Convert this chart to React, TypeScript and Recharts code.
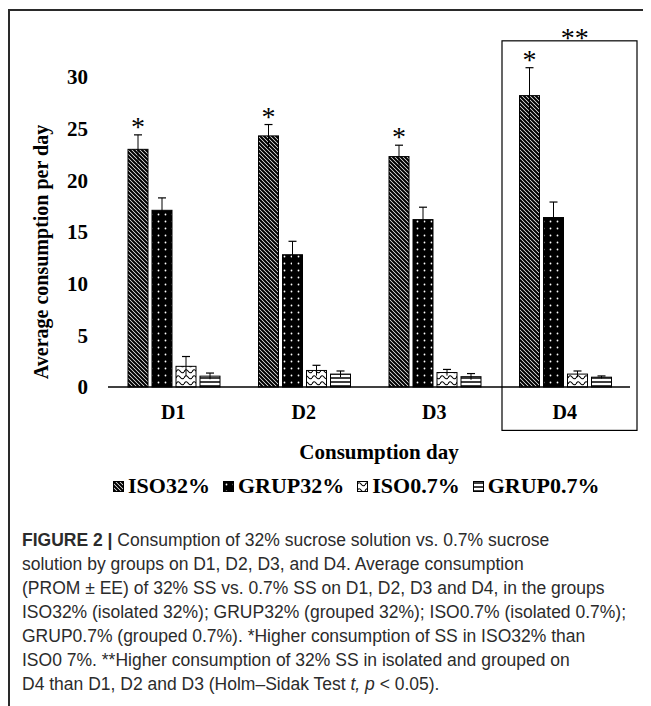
import React from "react";
import { BarChart, Bar, XAxis, YAxis, ReferenceArea } from "recharts";

const days = ["D1", "D2", "D3", "D4"];
const iso32 = [23.0, 24.3, 22.3, 28.2];
const iso32Err = [1.4, 1.1, 1.1, 2.7];
const grup32 = [17.1, 12.8, 16.2, 16.4];
const grup32Err = [1.2, 1.3, 1.2, 1.5];
const iso07 = [2.0, 1.6, 1.4, 1.25];
const iso07Err = [0.95, 0.5, 0.3, 0.3];
const grup07 = [1.05, 1.25, 1.0, 0.95];
const grup07Err = [0.3, 0.3, 0.3, 0.12];
const iso32Sig = ["*", "*", "*", "*"];
const yTicks = [0, 5, 10, 15, 20, 25, 30];
const boxDay = "D4";
const boxMark = "**";
const boxRange = [-4.2, 33.5];

const seriesNames = ["ISO32%", "GRUP32%", "ISO0.7%", "GRUP0.7%"];
const seriesKeys = ["iso32", "grup32", "iso07", "grup07"];
const patternIds = ["pHatch", "pDots", "pWave", "pHoriz"];

const data = days.map((d, i) => ({
  day: d,
  iso32: iso32[i],
  iso32Err: iso32Err[i],
  iso32Sig: iso32Sig[i],
  grup32: grup32[i],
  grup32Err: grup32Err[i],
  iso07: iso07[i],
  iso07Err: iso07Err[i],
  grup07: grup07[i],
  grup07Err: grup07Err[i],
}));

const SERIF = "'Liberation Serif', 'Times New Roman', serif";
const SANS = "'Liberation Sans', Arial, Helvetica, sans-serif";

function makeShape(key: string, pattern: string) {
  return (props: any) => {
    const { x, y, width, height, payload } = props;
    const v = payload[key];
    const err = payload[key + "Err"];
    const sig = payload[key + "Sig"];
    const perUnit = v ? height / v : 0;
    const e = err * perUnit;
    const cx = x + width / 2;
    return (
      <g>
        <rect x={x} y={y} width={width} height={height} fill={`url(#${pattern})`} stroke="#000" strokeWidth={1} />
        <line x1={cx} x2={cx} y1={y - e} y2={y + e} stroke="#000" strokeWidth={1} />
        <line x1={cx - 4} x2={cx + 4} y1={y - e} y2={y - e} stroke="#000" strokeWidth={1.2} />
        {sig ? (
          <text x={cx} y={y - e + 1} textAnchor="middle" fontFamily={SERIF} fontSize={28} fill="#000">
            {sig}
          </text>
        ) : null}
      </g>
    );
  };
}

function Patterns() {
  return (
    <svg width={0} height={0} style={{ position: "absolute" }}>
      <defs>
        <pattern id="pHatch" patternUnits="userSpaceOnUse" width={4} height={4}>
          <rect width={4} height={4} fill="#fff" />
          <path d="M-1,-1 L5,5 M-1,3 L1,5 M3,-1 L5,1" stroke="#000" strokeWidth={2.1} />
        </pattern>
        <pattern id="pDots" patternUnits="userSpaceOnUse" width={7} height={7}>
          <rect width={7} height={7} fill="#000" />
          <circle cx={3.5} cy={3.5} r={0.9} fill="#fff" />
        </pattern>
        <pattern id="pWave" patternUnits="userSpaceOnUse" width={8} height={6}>
          <rect width={8} height={6} fill="#fff" />
          <path d="M0,4 Q2,0 4,3 T8,4" stroke="#000" strokeWidth={1.1} fill="none" />
        </pattern>
        <pattern id="pHoriz" patternUnits="userSpaceOnUse" width={4} height={4}>
          <rect width={4} height={4} fill="#fff" />
          <line x1={0} x2={4} y1={2} y2={2} stroke="#000" strokeWidth={1.5} />
        </pattern>
      </defs>
    </svg>
  );
}

const captionLines: React.ReactNode[] = [
  <>
    <b>FIGURE 2 |</b> Consumption of 32% sucrose solution vs. 0.7% sucrose
  </>,
  <>solution by groups on D1, D2, D3, and D4. Average consumption</>,
  <>(PROM ± EE) of 32% SS vs. 0.7% SS on D1, D2, D3 and D4, in the groups</>,
  <>ISO32% (isolated 32%); GRUP32% (grouped 32%); ISO0.7% (isolated 0.7%);</>,
  <>GRUP0.7% (grouped 0.7%). *Higher consumption of SS in ISO32% than</>,
  <>ISO0 7%. **Higher consumption of 32% SS in isolated and grouped on</>,
  <>
    D4 than D1, D2 and D3 (Holm–Sidak Test <i>t, p</i> &lt; 0.05).
  </>,
];

export default function App() {
  return (
    <div style={{ position: "relative", width: 643, height: 698, overflow: "hidden", background: "#fff" }}>
      <Patterns />
      <div
        style={{
          position: "absolute",
          left: 0,
          top: 1,
          right: 0,
          bottom: 0,
          borderTop: "2px solid #2a2a2a",
          borderLeft: "2px solid #2a2a2a",
        }}
      />
      <div style={{ position: "absolute", left: 0, top: 0 }}>
        <BarChart
          width={643}
          height={460}
          data={data}
          margin={{ top: 69, right: 21, left: 20, bottom: 20 }}
          barCategoryGap={20}
          barGap={4}
        >
          <XAxis
            dataKey="day"
            height={61}
            axisLine={{ stroke: "#000", strokeWidth: 1.5 }}
            tickLine={false}
            tickSize={0}
            tickMargin={18}
            tick={{ fontFamily: SERIF, fontWeight: "bold", fontSize: 20, fill: "#000" }}
            label={{
              content: (p: any) => {
                const vb = p.viewBox;
                return (
                  <text
                    x={vb.x + vb.width / 2 + 10}
                    y={vb.y + 65}
                    dy="0.35em"
                    textAnchor="middle"
                    fontFamily={SERIF}
                    fontWeight="bold"
                    fontSize={21}
                    fill="#000"
                  >
                    Consumption day
                  </text>
                );
              },
            }}
          />
          <YAxis
            width={80}
            domain={[0, 30]}
            ticks={yTicks}
            axisLine={false}
            tickLine={false}
            tickSize={6}
            tickMargin={14}
            tick={{ fontFamily: SERIF, fontWeight: "bold", fontSize: 21, fill: "#000" }}
            label={{
              content: (p: any) => {
                const vb = p.viewBox;
                const cx = vb.x + 13;
                const cy = vb.y + vb.height / 2 + 20;
                return (
                  <text
                    x={cx}
                    y={cy}
                    dy="0.35em"
                    textAnchor="middle"
                    transform={`rotate(-90 ${cx} ${cy})`}
                    fontFamily={SERIF}
                    fontWeight="bold"
                    fontSize={20}
                    fill="#000"
                  >
                    Average consumption per day
                  </text>
                );
              },
            }}
          />
          {seriesKeys.map((k, i) => (
            <Bar
              key={k}
              dataKey={k}
              name={seriesNames[i]}
              isAnimationActive={false}
              shape={makeShape(k, patternIds[i])}
            />
          ))}
          <ReferenceArea
            x1={boxDay}
            x2={boxDay}
            y1={boxRange[0]}
            y2={boxRange[1]}
            ifOverflow="visible"
            shape={(p: any) => (
              <g>
                <rect x={p.x + 2.5} y={p.y} width={p.width + 4.5} height={p.height} fill="none" stroke="#000" strokeWidth={1.2} />
                <text
                  x={p.x + p.width / 2 + 10}
                  y={p.y + 6}
                  textAnchor="middle"
                  fontFamily={SERIF}
                  fontSize={28}
                  fill="#000"
                >
                  {boxMark}
                </text>
              </g>
            )}
          />
        </BarChart>
      </div>
      <div
        style={{
          position: "absolute",
          left: 105,
          top: 465,
          display: "flex",
          alignItems: "center",
          fontFamily: SERIF,
          fontWeight: "bold",
          fontSize: 22,
          color: "#000",
          whiteSpace: "nowrap",
        }}
      >
        {seriesNames.map((n, i) => (
          <div key={n} style={{ display: "flex", alignItems: "center", marginRight: 13 }}>
            <svg width={11} height={11} style={{ marginRight: 4 }}>
              <rect x={0.5} y={0.5} width={10} height={10} fill={`url(#${patternIds[i]})`} stroke="#000" strokeWidth={1} />
            </svg>
            <span>{n}</span>
          </div>
        ))}
      </div>
      <div
        style={{
          position: "absolute",
          left: 14,
          top: 520,
          fontFamily: SANS,
          fontSize: 17.5,
          lineHeight: "24px",
          color: "#2b2b2b",
          whiteSpace: "nowrap",
        }}
      >
        {captionLines.map((l, i) => (
          <div key={i}>{l}</div>
        ))}
      </div>
    </div>
  );
}
